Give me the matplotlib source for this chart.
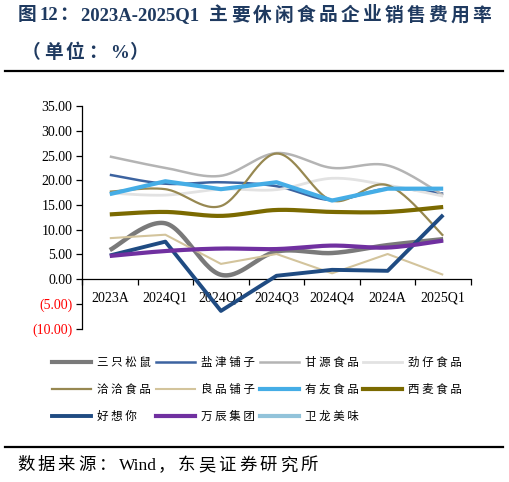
import numpy as np
import matplotlib
matplotlib.use("Agg")
import matplotlib.pyplot as plt
from matplotlib.lines import Line2D

plt.rcParams["font.family"] = ["Liberation Serif", "Noto Sans CJK SC"]

periods = ["2023A", "2024Q1", "2024Q2", "2024Q3", "2024Q4", "2024A", "2025Q1"]

sanzhi = [5.9, 11.3, 0.9, 5.6, 5.3, 6.9, 8.1]
yanjin = [21.1, 19.3, 19.6, 18.8, 16.0, 18.3, 17.3]
ganyuan = [24.8, 22.5, 20.9, 25.5, 22.5, 23.0, 17.0]
jinzai = [17.4, 17.0, 18.2, 18.1, 20.4, 19.0, 16.8]
qiaqia = [17.7, 18.2, 14.8, 25.4, 15.9, 19.0, 8.8]
liangpin = [8.3, 9.0, 3.1, 5.1, 1.2, 5.1, 0.9]
youyou = [17.2, 19.8, 18.2, 19.6, 15.9, 18.3, 18.3]
ximai = [13.1, 13.6, 12.8, 14.0, 13.6, 13.6, 14.6]
haoxiangni = [4.8, 7.6, -6.4, 0.7, 1.9, 1.7, 13.0]
wanchen = [4.7, 5.7, 6.2, 6.1, 6.8, 6.4, 7.8]
weilong = []

# name, values, colour, line width, smoothed like Excel
series = [
    ("三只松鼠", sanzhi, "#7a7a7a", 3.2, True),
    ("盐津铺子", yanjin, "#3c63a0", 1.8, True),
    ("甘源食品", ganyuan, "#b4b4b4", 1.8, True),
    ("劲仔食品", jinzai, "#e2e2e2", 2.0, True),
    ("洽洽食品", qiaqia, "#978851", 1.6, True),
    ("良品铺子", liangpin, "#d3c49c", 1.5, False),
    ("有友食品", youyou, "#45ade6", 3.0, False),
    ("西麦食品", ximai, "#7b6a00", 3.0, True),
    ("好想你", haoxiangni, "#1f4b82", 2.8, False),
    ("万辰集团", wanchen, "#7030a0", 3.0, True),
    ("卫龙美味", weilong, "#92c3da", 4.0, False),
]


def smooth(x, y, n=30):
    # Catmull-Rom style cubic bezier, similar to Excel's smoothed line
    x = np.asarray(x, float)
    y = np.asarray(y, float)
    xs, ys = [], []
    for i in range(len(x) - 1):
        x0, y0 = (x[i - 1], y[i - 1]) if i > 0 else (x[i], y[i])
        x3, y3 = (x[i + 2], y[i + 2]) if i + 2 < len(x) else (x[i + 1], y[i + 1])
        p0 = np.array([x[i], y[i]])
        p3 = np.array([x[i + 1], y[i + 1]])
        p1 = p0 + (np.array([x[i + 1], y[i + 1]]) - np.array([x0, y0])) / 6
        p2 = p3 - (np.array([x3, y3]) - p0) / 6
        t = np.linspace(0, 1, n)[:, None]
        pts = ((1 - t) ** 3) * p0 + 3 * ((1 - t) ** 2) * t * p1 + 3 * (1 - t) * t ** 2 * p2 + t ** 3 * p3
        xs.extend(pts[:, 0])
        ys.extend(pts[:, 1])
    return xs, ys


def spaced_text(fig, x_px, y_frac, s, gap_px, **kw):
    # draw text piece by piece, adding a gap after each wide (CJK) character
    renderer = fig.canvas.get_renderer()
    runs, buf = [], ""
    for ch in s:
        if ord(ch) > 0x2000:
            if buf:
                runs.append((buf, False))
                buf = ""
            runs.append((ch, True))
        else:
            buf += ch
    if buf:
        runs.append((buf, False))
    x = x_px
    for txt, wide in runs:
        t = fig.text(x / fig.bbox.width, y_frac, txt, va="center", **kw)
        w = t.get_window_extent(renderer).width
        x += w + (gap_px if wide else 0.5)


fig = plt.figure(figsize=(5.10, 4.82), dpi=100)
ax = fig.add_axes([0.1608, 0.318, 0.7627, 0.462])

xpos = np.arange(len(periods))
handles = []
for name, vals, color, lw, is_smooth in series:
    if vals:
        if is_smooth:
            sx, sy = smooth(xpos, vals)
        else:
            sx, sy = xpos, vals
        ax.plot(sx, sy, color=color, lw=lw, solid_capstyle="butt", zorder=3)
    handles.append(Line2D([], [], color=color, lw=min(lw, 3.0), label=" ".join(name)))

ax.set_xlim(-0.5, len(periods) - 0.5)
ax.set_ylim(-10, 35)
ax.set_yticks(np.arange(-10, 36, 5))
ylabels = []
for v in np.arange(-10, 36, 5):
    ylabels.append(f"({abs(v):.2f})" if v < 0 else f"{v:.2f}")
ax.set_yticklabels(ylabels, fontsize=10)
for lab, v in zip(ax.get_yticklabels(), np.arange(-10, 36, 5)):
    if v < 0:
        lab.set_color("red")

ax.spines["top"].set_visible(False)
ax.spines["right"].set_visible(False)
ax.spines["bottom"].set_position(("data", 0))
ax.spines["left"].set_linewidth(0.9)
ax.spines["bottom"].set_linewidth(0.9)
ax.set_xticks(xpos)
ax.set_xticklabels(periods, fontsize=10)
ax.set_xticks(np.arange(-0.5, len(periods), 1), minor=True)
ax.tick_params(axis="x", which="major", length=0, pad=9)
ax.tick_params(axis="x", which="minor", length=4, width=0.9, direction="out")
ax.tick_params(axis="y", length=4, width=0.9, direction="out", pad=3)

# legend arranged row-wise like the reference (matplotlib fills by column)
order = [0, 4, 8, 1, 5, 9, 2, 6, 10, 3, 7]
fig.legend(handles=[handles[i] for i in order], ncol=4, loc="upper left",
           bbox_to_anchor=(0.102, 0.2614), frameon=False,
           prop={"family": ["Noto Sans CJK SC"], "size": 8.3},
           handlelength=3.38, handletextpad=0.52, columnspacing=0.43,
           labelspacing=1.2, borderpad=0, borderaxespad=0)

title_color = "#1f3a60"
spaced_text(fig, 18, 0.967, "图12：2023A-2025Q1  主要休闲食品企业销售费用率", 3.2,
            fontsize=13.5, fontweight="bold", color=title_color)
spaced_text(fig, 22, 0.890, "（单位：%）", 3.2, fontsize=13.5, fontweight="bold",
            color=title_color)
fig.add_artist(Line2D([0.01, 0.986], [0.853, 0.853], color="black", lw=1.6))
fig.add_artist(Line2D([0.01, 0.986], [0.072, 0.072], color="black", lw=1.6))
spaced_text(fig, 17, 0.033, "数据来源：Wind，东吴证券研究所", 3.0, fontsize=12.5,
            color="black")

fig.savefig("out.png", dpi=100)
